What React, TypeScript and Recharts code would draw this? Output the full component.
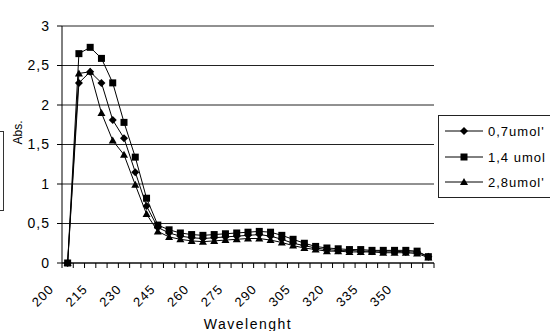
import React from 'react';
import { LineChart, Line, XAxis, YAxis, CartesianGrid } from 'recharts';

const FONT = '"Liberation Sans", Arial, sans-serif';

// wavelength categories (nm)
const WAVELENGTHS = [
  200, 205, 210, 215, 220, 225, 230, 235, 240, 245, 250, 255, 260, 265, 270, 275, 280,
  285, 290, 295, 300, 305, 310, 315, 320, 325, 330, 335, 340, 345, 350, 355, 360,
];

// absorbance per concentration
const ABS_07 = [
  0, 2.28, 2.42, 2.28, 1.81, 1.58, 1.15, 0.72, 0.45, 0.38, 0.34, 0.32, 0.31, 0.32, 0.33,
  0.34, 0.35, 0.36, 0.34, 0.3, 0.25, 0.22, 0.19, 0.17, 0.16, 0.16, 0.15, 0.15, 0.15, 0.15,
  0.14, 0.14, 0.08,
];
const ABS_14 = [
  0, 2.65, 2.73, 2.59, 2.28, 1.78, 1.34, 0.82, 0.48, 0.42, 0.38, 0.36, 0.35, 0.36, 0.37,
  0.38, 0.39, 0.4, 0.39, 0.35, 0.3, 0.25, 0.21, 0.19, 0.18, 0.17, 0.17, 0.16, 0.16, 0.16,
  0.16, 0.15, 0.08,
];
const ABS_28 = [
  0, 2.4, 2.42, 1.9, 1.55, 1.37, 0.99, 0.62, 0.4, 0.33, 0.3, 0.28, 0.27, 0.28, 0.29, 0.3,
  0.31, 0.31, 0.29, 0.26, 0.22, 0.19, 0.17, 0.15, 0.15, 0.14, 0.14, 0.14, 0.13, 0.13, 0.13,
  0.12, 0.07,
];

const X_LABELS = [200, 215, 230, 245, 260, 275, 290, 305, 320, 335, 350];
const Y_TICKS = [0, 0.5, 1, 1.5, 2, 2.5, 3];
const SERIES_NAMES = ["0,7umol'", '1,4 umol', "2,8umol'"];

// tick marks sit between the categories, like Excel does
const X_BOUNDS = [...WAVELENGTHS.map((w) => w - 2.5), WAVELENGTHS[WAVELENGTHS.length - 1] + 2.5];
const X_DOMAIN = [X_BOUNDS[0], X_BOUNDS[X_BOUNDS.length - 1]];

const data = WAVELENGTHS.map((wl, i) => ({
  wl,
  a07: ABS_07[i],
  a14: ABS_14[i],
  a28: ABS_28[i],
}));

type Shape = 'diamond' | 'square' | 'triangle';
const SHAPES: Shape[] = ['diamond', 'square', 'triangle'];

function marker(shape: Shape, cx: number, cy: number, key?: string) {
  if (shape === 'diamond') {
    return (
      <polygon
        key={key}
        points={`${cx},${cy - 4} ${cx + 4},${cy} ${cx},${cy + 4} ${cx - 4},${cy}`}
        fill="#000"
      />
    );
  }
  if (shape === 'square') {
    return <rect key={key} x={cx - 3.5} y={cy - 3.5} width={7} height={7} fill="#000" />;
  }
  return (
    <polygon
      key={key}
      points={`${cx},${cy - 4} ${cx + 4},${cy + 3} ${cx - 4},${cy + 3}`}
      fill="#000"
    />
  );
}

const dotFor = (shape: Shape) => (p: any) => marker(shape, p.cx, p.cy, `${shape}-${p.index}`);

const noTick = (p: any) => <g key={`n-${p.index}`} />;

// rotated wavelength labels, every third category
function LabelTick(props: any) {
  const { x, y, payload, index } = props;
  const ax = x - 13;
  const ay = y + 21;
  return (
    <text
      key={`l-${index}`}
      x={ax}
      y={ay}
      textAnchor="end"
      transform={`rotate(-45, ${ax}, ${ay})`}
      fill="#000"
      fontSize={13}
      fontFamily={FONT}
      letterSpacing={1}
    >
      {payload.value}
    </text>
  );
}

function ChartLegend() {
  const rows = [15, 41, 66];
  return (
    <div
      style={{
        position: 'absolute',
        left: 438,
        top: 115,
        width: 120,
        height: 81,
        border: '1px solid #222',
        background: '#fff',
        fontFamily: FONT,
        fontSize: 13,
        letterSpacing: 1,
      }}
    >
      {SERIES_NAMES.map((name, i) => (
        <div
          key={name}
          style={{ position: 'absolute', left: 6, top: rows[i] - 8, height: 16, display: 'flex', alignItems: 'center' }}
        >
          <svg width={38} height={16}>
            <line x1={0} y1={8} x2={38} y2={8} stroke="#000" strokeWidth={1} />
            {marker(SHAPES[i], 19, 8)}
          </svg>
          <span style={{ marginLeft: 5, color: '#000', whiteSpace: 'nowrap' }}>{name}</span>
        </div>
      ))}
    </div>
  );
}

export default function App() {
  return (
    <div
      style={{
        position: 'absolute',
        left: 0,
        top: 0,
        width: 550,
        height: 331,
        background: '#fff',
        overflow: 'hidden',
        fontFamily: FONT,
      }}
    >
      <LineChart width={550} height={331} data={data} margin={{ top: 26, right: 116, left: 0, bottom: 0 }}>
        <CartesianGrid xAxisId="b" yAxisId="l" vertical={false} stroke="#222" />
        <XAxis
          xAxisId="b"
          dataKey="wl"
          type="number"
          domain={X_DOMAIN}
          ticks={X_BOUNDS}
          interval={0}
          allowDataOverflow
          height={6}
          tickSize={5}
          tick={noTick}
          axisLine={{ stroke: '#000' }}
          tickLine={{ stroke: '#000' }}
        />
        <XAxis
          xAxisId="lab"
          dataKey="wl"
          type="number"
          domain={X_DOMAIN}
          ticks={X_LABELS}
          interval={0}
          allowDataOverflow
          height={62}
          tickSize={0}
          tickMargin={0}
          axisLine={false}
          tickLine={false}
          tick={<LabelTick />}
          label={{
            value: 'Wavelenght',
            position: 'insideBottom',
            offset: 2,
            fill: '#000',
            fontSize: 14,
            fontFamily: FONT,
            letterSpacing: 1.5,
          }}
        />
        <YAxis
          yAxisId="l"
          domain={[0, 3]}
          ticks={Y_TICKS}
          interval={0}
          width={62}
          tickSize={5}
          tickMargin={7}
          tickFormatter={(v: number) => String(v).replace('.', ',')}
          tick={{ fill: '#000', fontSize: 14, fontFamily: FONT, letterSpacing: 1 }}
          axisLine={{ stroke: '#000' }}
          tickLine={{ stroke: '#000' }}
          label={{
            value: 'Abs.',
            angle: -90,
            position: 'insideLeft',
            offset: 18,
            fill: '#000',
            fontSize: 12,
            fontFamily: FONT,
          }}
        />
        <YAxis
          yAxisId="r"
          orientation="right"
          domain={[0, 3]}
          width={0}
          tick={false}
          tickLine={false}
          axisLine={{ stroke: '#999' }}
        />
        <Line
          xAxisId="b"
          yAxisId="l"
          dataKey="a07"
          stroke="#000"
          strokeWidth={1}
          dot={dotFor('diamond')}
          isAnimationActive={false}
        />
        <Line
          xAxisId="b"
          yAxisId="l"
          dataKey="a14"
          stroke="#000"
          strokeWidth={1}
          dot={dotFor('square')}
          isAnimationActive={false}
        />
        <Line
          xAxisId="b"
          yAxisId="l"
          dataKey="a28"
          stroke="#000"
          strokeWidth={1}
          dot={dotFor('triangle')}
          isAnimationActive={false}
        />
      </LineChart>
      <div
        style={{
          position: 'absolute',
          left: -10,
          top: 131,
          width: 12,
          height: 78,
          border: '1px solid #333',
        }}
      />
      <ChartLegend />
    </div>
  );
}
